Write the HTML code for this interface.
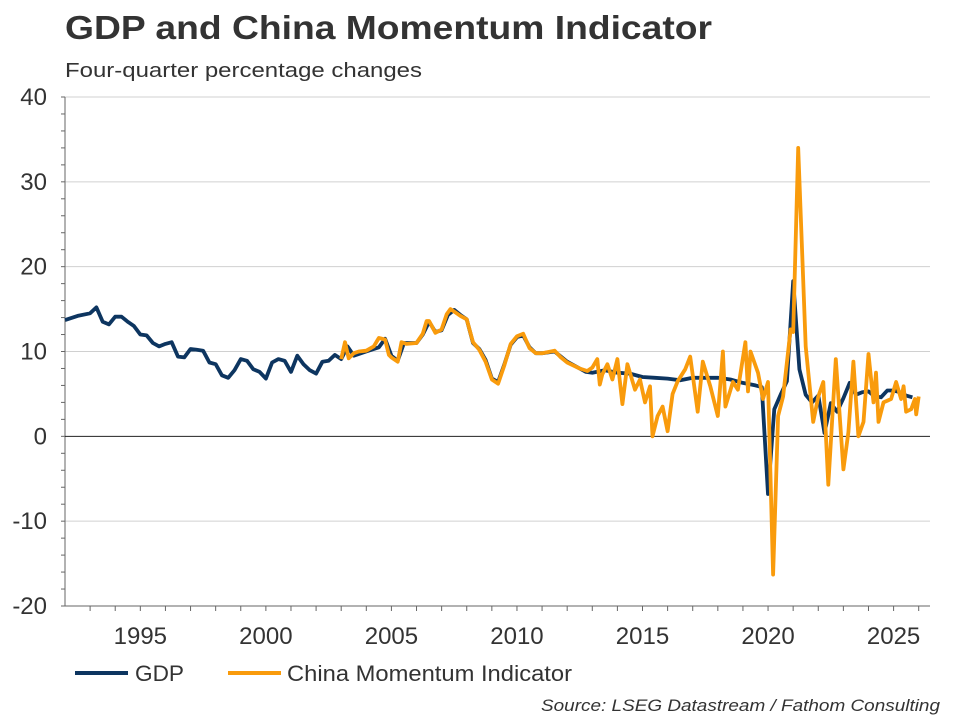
<!DOCTYPE html>
<html><head><meta charset="utf-8"><style>
body{margin:0;background:#fff;font-family:"Liberation Sans",sans-serif}
</style></head><body>
<svg id="c" width="960" height="720" style="display:block">
<text x="65" y="39" font-size="33" font-weight="bold" fill="#333" textLength="647" lengthAdjust="spacingAndGlyphs">GDP and China Momentum Indicator</text>
<text x="65" y="77" font-size="20" fill="#333" textLength="357" lengthAdjust="spacingAndGlyphs">Four-quarter percentage changes</text>
<g id="grid"></g>
<g id="axes"></g>
<g id="series"></g>
<g>
<line x1="75" y1="673" x2="128" y2="673" stroke="#0d3560" stroke-width="4"/>
<text x="135" y="681" font-size="22" fill="#333" textLength="49" lengthAdjust="spacingAndGlyphs">GDP</text>
<line x1="228" y1="673" x2="281" y2="673" stroke="#f99b0c" stroke-width="4"/>
<text x="287" y="681" font-size="22" fill="#333" textLength="285" lengthAdjust="spacingAndGlyphs">China Momentum Indicator</text>
</g>
<text x="940" y="711" font-size="17" font-style="italic" fill="#333" text-anchor="end" textLength="399" lengthAdjust="spacingAndGlyphs">Source: LSEG Datastream / Fathom Consulting</text>
</svg>
<script>
const yTicks=[40,30,20,10,0,-10,-20];
const xTicks=[1995,2000,2005,2010,2015,2020,2025];
const gdpDates=[1992,1992.5,1993,1993.25,1993.5,1993.75,1994,1994.25,1994.5,1994.75,1995,1995.25,1995.5,1995.75,1996,1996.25,1996.5,1996.75,1997,1997.25,1997.5,1997.75,1998,1998.25,1998.5,1998.75,1999,1999.25,1999.5,1999.75,2000,2000.25,2000.5,2000.75,2001,2001.25,2001.5,2001.75,2002,2002.25,2002.5,2002.75,2003,2003.25,2003.5,2004,2004.5,2004.75,2005,2005.25,2005.5,2006,2006.25,2006.5,2006.75,2007,2007.25,2007.5,2007.75,2008,2008.25,2008.5,2008.75,2009,2009.25,2009.5,2009.75,2010,2010.25,2010.5,2010.75,2011,2011.5,2011.75,2012,2012.5,2012.75,2013,2013.5,2014,2014.5,2015,2015.5,2016,2016.5,2017,2017.5,2018,2018.5,2019,2019.5,2019.75,2020,2020.25,2020.5,2020.75,2021,2021.25,2021.5,2021.75,2022,2022.25,2022.5,2022.75,2023,2023.25,2023.5,2023.75,2024,2024.25,2024.5,2024.75,2025,2025.25,2025.5,2025.75];
const gdpValues=[13.7,14.2,14.5,15.2,13.5,13.2,14.1,14.1,13.5,13.0,12.0,11.9,11.0,10.6,10.9,11.1,9.4,9.3,10.3,10.2,10.1,8.7,8.5,7.2,6.9,7.8,9.1,8.9,7.9,7.6,6.8,8.7,9.1,8.9,7.6,9.5,8.5,7.8,7.4,8.8,8.9,9.6,9.1,10.6,9.5,10.0,10.5,11.5,9.5,8.9,11.0,11.0,12.0,13.5,12.3,12.5,14.3,14.9,14.3,13.8,11.0,10.3,9.0,6.8,6.4,8.5,10.8,11.7,11.9,10.5,9.8,9.8,10.0,9.4,8.8,8.0,7.6,7.5,7.8,7.5,7.4,7.0,6.9,6.8,6.6,6.9,6.9,6.9,6.7,6.3,6.0,5.8,-6.8,3.2,4.9,6.5,18.3,7.9,4.9,4.0,4.8,0.4,3.9,2.9,4.5,6.3,4.9,5.2,5.3,4.7,4.6,5.4,5.4,5.2,4.8,4.6];
const cmiDates=[2003,2003.15,2003.3,2003.5,2003.7,2004,2004.3,2004.5,2004.75,2004.9,2005,2005.25,2005.4,2005.6,2006,2006.25,2006.4,2006.5,2006.75,2007,2007.2,2007.35,2007.5,2007.75,2008,2008.25,2008.5,2008.75,2009,2009.25,2009.5,2009.75,2010,2010.25,2010.5,2010.75,2011,2011.5,2011.75,2012,2012.5,2012.8,2013,2013.2,2013.3,2013.4,2013.6,2013.8,2014,2014.2,2014.4,2014.7,2014.9,2015.1,2015.3,2015.4,2015.6,2015.8,2016,2016.2,2016.4,2016.7,2016.9,2017.2,2017.4,2017.7,2018,2018.2,2018.3,2018.6,2018.8,2019.1,2019.2,2019.3,2019.6,2019.8,2020,2020.2,2020.4,2020.6,2020.9,2021,2021.2,2021.5,2021.8,2022,2022.2,2022.4,2022.7,2023,2023.2,2023.4,2023.6,2023.8,2024,2024.2,2024.3,2024.4,2024.6,2024.9,2025.1,2025.3,2025.4,2025.5,2025.7,2025.85,2025.9,2026];
const cmiValues=[9.1,11.1,9.2,9.8,10.0,10.1,10.6,11.6,11.4,9.6,9.3,8.8,11.1,10.9,11.0,12.1,13.6,13.6,12.2,12.6,14.4,15.0,14.7,14.2,13.8,11.1,10.2,8.8,6.7,6.2,8.4,10.9,11.8,12.1,10.4,9.8,9.8,10.1,9.3,8.7,8.0,7.7,8.1,9.1,6.1,7.3,8.5,6.7,9.1,3.8,8.5,5.5,6.7,4.0,5.9,0.0,2.4,3.5,0.6,5.0,6.5,7.9,9.4,2.9,8.8,5.9,2.4,10.0,3.5,6.4,5.5,11.1,5.3,10.0,7.5,4.4,6.4,-16.3,2.4,4.7,12.6,12.3,34.0,10.6,1.7,4.7,6.4,-5.7,9.1,-3.9,0.5,8.8,0.0,1.7,9.7,4.0,7.5,1.7,4.0,4.4,6.4,4.4,5.9,2.9,3.2,4.4,2.6,4.7];

const L=65,R=930,T=97,B=606;
const xS=y=>L+(y-1992)/(2026.45-1992)*(R-L);
const yS=v=>T+(40-v)/60*(B-T);
const NS='http://www.w3.org/2000/svg';
function mk(tag,attrs,parent){const e=document.createElementNS(NS,tag);for(const k in attrs)e.setAttribute(k,attrs[k]);parent.appendChild(e);return e;}
const grid=document.getElementById('grid'),axes=document.getElementById('axes'),series=document.getElementById('series');
yTicks.forEach(v=>{
  if(v!==0&&v!==-20){const g=mk('line',{x1:L,x2:R,y1:yS(v),y2:yS(v),stroke:'#d0d0d0','stroke-width':1},grid);
  
  }
  const t=mk('text',{x:47,y:yS(v)+8,'font-size':24,fill:'#333','text-anchor':'end'},axes);t.textContent=v;
  
  
});
for(let v=-20;v<=40;v+=2){mk('line',{x1:L-4,x2:L,y1:yS(v),y2:yS(v),stroke:'#666','stroke-width':1},axes);}
const ya=mk('line',{x1:L,x2:L,y1:T,y2:B,stroke:'#666','stroke-width':1},axes);


const xa=mk('line',{x1:L,x2:R,y1:B,y2:B,stroke:'#666','stroke-width':1},axes);


const zl=mk('line',{x1:L,x2:R,y1:yS(0),y2:yS(0),stroke:'#222','stroke-width':1},axes);


for(let y=1993;y<=2026;y++){mk('line',{x1:xS(y),x2:xS(y),y1:B,y2:B+5,stroke:'#666','stroke-width':1},axes);}
xTicks.forEach(y=>{const t=mk('text',{x:xS(y),y:644,'font-size':24,fill:'#333','text-anchor':'middle'},axes);t.textContent=y;
  
  });
function path(d,v){return d.map((x,i)=>(i?'L':'M')+xS(x).toFixed(1)+','+yS(v[i]).toFixed(1)).join('');}
const g1=mk('path',{d:path(gdpDates,gdpValues),fill:'none',stroke:'#0d3560','stroke-width':3.8,'stroke-linejoin':'round'},series);


const g2=mk('path',{d:path(cmiDates,cmiValues),fill:'none',stroke:'#f99b0c','stroke-width':3.8,'stroke-linejoin':'round'},series);


</script>
</body></html>
